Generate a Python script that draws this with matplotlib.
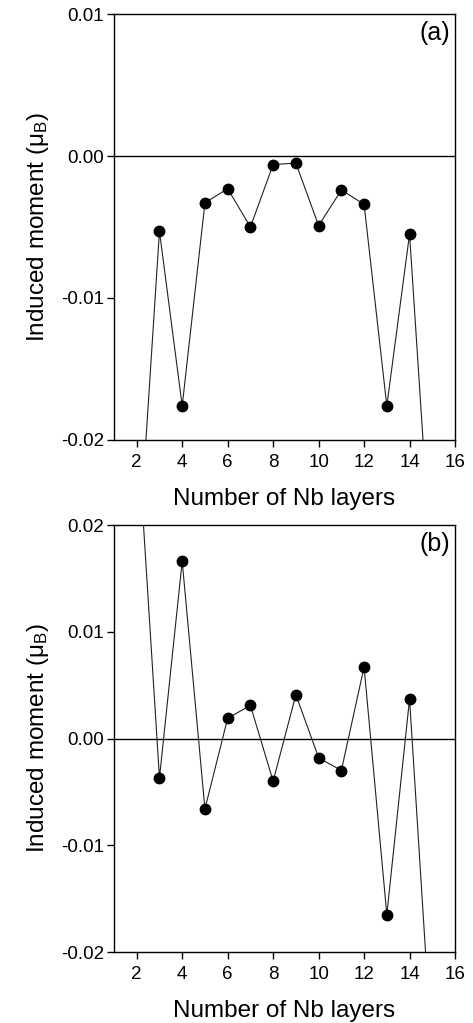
import matplotlib
matplotlib.use("Agg")
import matplotlib.pyplot as plt

plt.rcParams['font.family'] = ['Liberation Sans', 'DejaVu Sans']
plt.rcParams['mathtext.fontset'] = 'custom'
plt.rcParams['mathtext.rm'] = 'Liberation Sans'
plt.rcParams['mathtext.it'] = 'Liberation Sans'

layers = [2, 3, 4, 5, 6, 7, 8, 9, 10, 11, 12, 13, 14, 15]
moment_a = [-0.030, -0.0053, -0.0176, -0.0033, -0.0023, -0.0050, -0.0006,
            -0.0005, -0.0049, -0.0024, -0.0034, -0.0176, -0.0055, -0.030]
moment_b = [0.030, -0.0037, 0.0166, -0.0066, 0.0019, 0.0031, -0.0040,
            0.0041, -0.0018, -0.0030, 0.0067, -0.0165, 0.0037, -0.030]

xticks = [2, 4, 6, 8, 10, 12, 14, 16]
yticks_a = [-0.02, -0.01, 0.00, 0.01]
yticks_b = [-0.02, -0.01, 0.00, 0.01, 0.02]

fig = plt.figure(figsize=(4.73, 10.23), dpi=100)
ax_a = fig.add_axes([0.241, 0.5699, 0.721, 0.4164])
ax_b = fig.add_axes([0.241, 0.0694, 0.721, 0.4174])

for ax, y, yt, lab in [(ax_a, moment_a, yticks_a, '(a)'),
                       (ax_b, moment_b, yticks_b, '(b)')]:
    ax.axhline(0, color='black', lw=1.0, zorder=1)
    ax.plot(layers, y, '-', color='#222222', lw=0.8, marker='o',
            markersize=7.5, markerfacecolor='black', markeredgecolor='black',
            zorder=3)
    ax.set_xlim(1, 16)
    ax.set_ylim(yt[0], yt[-1])
    ax.set_xticks(xticks)
    ax.set_yticks(yt)
    ax.set_yticklabels([f'{v:.2f}' for v in yt])
    ax.tick_params(direction='out', length=5, width=1, labelsize=13.5,
                   top=False, right=False)
    ax.tick_params(axis='x', pad=5)
    ax.tick_params(axis='y', pad=2)
    for s in ax.spines.values():
        s.set_linewidth(1.0)
    ax.set_xlabel('Number of Nb layers', fontsize=17.5, labelpad=12)
    ax.set_ylabel(r'Induced moment ($\mu_\mathrm{B}$)', fontsize=17.5, labelpad=7)
    ax.text(0.985, 0.955, lab, transform=ax.transAxes, ha='right', va='center',
            fontsize=18)

fig.savefig('out.png', dpi=100)
